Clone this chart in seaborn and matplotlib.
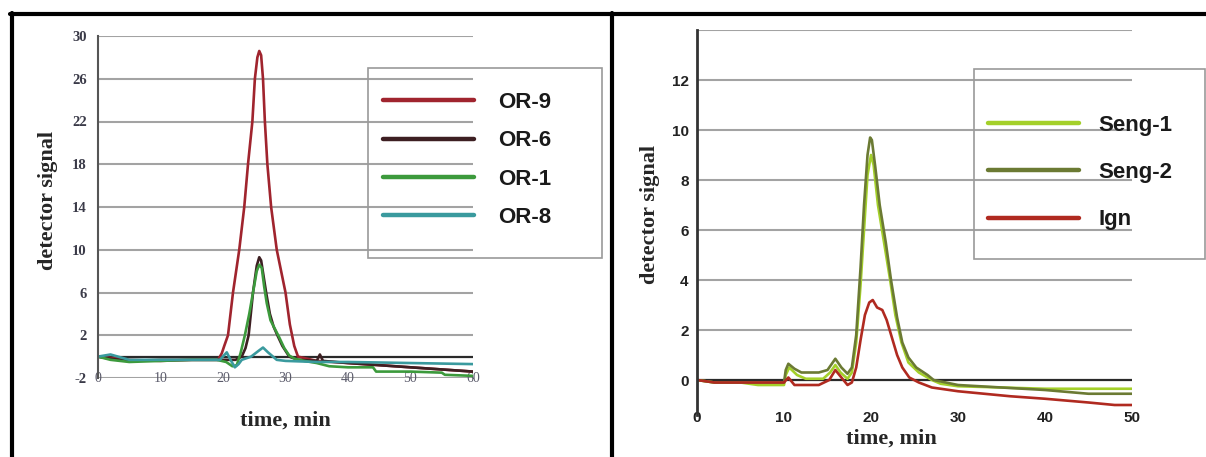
import numpy as np
import pandas as pd
import matplotlib
matplotlib.use("Agg")
import matplotlib.pyplot as plt
from matplotlib.lines import Line2D
from matplotlib.patches import Rectangle
import seaborn as sns

# ---------------- data ----------------
# left panel: OR samples, time (min) vs detector signal
or9_t = [0, 5, 10, 15, 19.2, 19.8, 20.2, 20.8, 21.6, 22.6, 23.4, 24.0, 24.7, 25.1, 25.5,
         25.8, 26.1, 26.4, 26.7, 27.1, 27.7, 28.6, 29.3, 30.0, 30.7, 31.4, 32.0, 35, 40, 45, 50, 55, 60]
or9_y = [0, -0.3, -0.4, -0.3, -0.3, 0.3, 1.0, 2.0, 6.0, 10.0, 14.0, 18.0, 22.0, 26.0, 28.0,
         28.6, 28.2, 26.0, 22.0, 18.0, 14.0, 10.0, 8.0, 6.0, 3.0, 1.0, 0.0, -0.4, -0.6, -0.8, -1.0, -1.2, -1.4]

or6_t = [0, 2, 5, 10, 15, 20, 22, 23, 23.6, 24.1, 24.8, 25.4, 25.8, 26.1, 26.5, 26.9,
         27.5, 28.1, 28.7, 29.5, 30.6, 32, 35, 35.5, 36, 40, 45, 50, 55, 60]
or6_y = [0, -0.2, -0.4, -0.3, -0.3, -0.3, -0.3, 0.0, 0.8, 2.0, 6.0, 8.5, 9.3, 9.0, 7.5, 6.0,
         4.0, 2.8, 2.0, 1.0, 0.0, -0.3, -0.4, 0.2, -0.4, -0.6, -0.8, -1.0, -1.2, -1.4]

or1_t = [0, 2, 5, 10, 15, 19, 20.5, 21.5, 22.2, 22.8, 23.5, 24.2, 24.8, 25.4, 25.8, 26.2,
         26.6, 27.0, 27.6, 28.3, 29.0, 29.8, 30.6, 31.5, 33, 35, 37, 40, 44, 44.5, 50, 55, 55.5, 60]
or1_y = [0, -0.3, -0.5, -0.4, -0.3, -0.3, -0.5, -0.9, -0.8, 0.3, 2.0, 4.0, 6.0, 8.0, 8.6, 8.3,
         6.5, 5.0, 3.4, 2.6, 1.8, 0.8, 0.1, -0.2, -0.4, -0.6, -0.9, -1.0, -1.0, -1.4, -1.4, -1.5, -1.7, -1.8]

or8_t = [0, 2, 5, 10, 15, 19.5, 20.6, 21.2, 21.9, 22.5, 23.0, 24.5, 25.6, 26.4, 27.2, 28.6,
         30, 35, 40, 50, 60]
or8_y = [0, 0.2, -0.3, -0.3, -0.3, -0.3, 0.4, -0.3, -1.0, -0.7, -0.3, 0.0, 0.5, 0.85, 0.4, -0.3,
         -0.4, -0.5, -0.5, -0.6, -0.7]

# right panel: Seng / Ign samples
seng1_t = [0, 2, 5, 7, 10, 10.2, 10.6, 11.5, 12.5, 14.5, 15.3, 15.9, 16.5, 17.3, 17.8, 18.3,
           18.8, 19.2, 19.6, 20.0, 20.3, 20.8, 21.5, 22.2, 22.8, 23.5, 24.3, 25.5, 27, 28, 30,
           35, 40, 45, 50]
seng1_y = [0, -0.1, -0.1, -0.2, -0.2, 0.2, 0.5, 0.2, 0.05, 0.05, 0.3, 0.6, 0.3, 0.05, 0.3, 1.5,
           3.8, 6.0, 8.2, 9.0, 8.6, 7.0, 5.5, 4.0, 2.6, 1.5, 0.7, 0.3, 0.0, -0.15, -0.25,
           -0.3, -0.35, -0.35, -0.35]

seng2_t = [0, 2, 5, 10, 10.2, 10.5, 11.2, 12, 14, 15, 15.9, 16.6, 17.3, 17.8, 18.3, 18.8,
           19.2, 19.6, 19.9, 20.1, 20.5, 21.0, 21.7, 22.3, 23.0, 23.6, 24.3, 25.2, 26.5, 27.2,
           30, 35, 40, 45, 50]
seng2_y = [0, -0.1, -0.1, -0.1, 0.4, 0.65, 0.45, 0.3, 0.3, 0.4, 0.85, 0.5, 0.25, 0.5, 1.8, 4.5,
           7.0, 9.0, 9.7, 9.6, 8.5, 7.0, 5.5, 4.0, 2.5, 1.5, 0.9, 0.5, 0.2, 0.0,
           -0.2, -0.3, -0.4, -0.55, -0.55]

ign_t = [0, 2, 5, 10, 10.5, 11.2, 14, 15.2, 15.9, 16.6, 17.3, 17.8, 18.3, 18.8, 19.3, 19.8,
         20.2, 20.7, 21.3, 21.8, 22.4, 23.0, 23.6, 24.4, 25.5, 27, 28, 30, 33, 36, 40, 45, 48, 50]
ign_y = [0, -0.1, -0.1, -0.1, 0.1, -0.2, -0.2, 0.0, 0.4, 0.1, -0.2, -0.1, 0.5, 1.6, 2.6, 3.1,
         3.2, 2.9, 2.8, 2.4, 1.7, 1.0, 0.5, 0.1, -0.1, -0.3, -0.35, -0.45, -0.55, -0.65, -0.75, -0.9, -1.0, -1.0]

left_names = ["OR-9", "OR-6", "OR-1", "OR-8"]
left_colors = ["#a0242e", "#3d1f22", "#3c9a3c", "#3a9a9e"]
right_names = ["Seng-1", "Seng-2", "Ign"]
right_colors = ["#a4d02a", "#6b7a33", "#b02a20"]

left_yticks = [-2, 2, 6, 10, 14, 18, 22, 26, 30]
left_xticks = [0, 10, 20, 30, 40, 50, 60]
right_yticks = [0, 2, 4, 6, 8, 10, 12, 14]
right_ylabels = ["0", "2", "4", "6", "8", "10", "12", ""]
right_xticks = [0, 10, 20, 30, 40, 50]


def long_frame(names, ts, ys):
    parts = [pd.DataFrame({"time": t, "signal": y, "sample": n}) for n, t, y in zip(names, ts, ys)]
    return pd.concat(parts, ignore_index=True)


left_df = long_frame(left_names, [or9_t, or6_t, or1_t, or8_t], [or9_y, or6_y, or1_y, or8_y])
right_df = long_frame(right_names, [seng1_t, seng2_t, ign_t], [seng1_y, seng2_y, ign_y])

# ---------------- figure ----------------
sns.set_style("white")
plt.rcParams["font.family"] = ["Liberation Sans", "DejaVu Sans"]

W, H = 1206, 457
fig = plt.figure(figsize=(W / 100, H / 100), dpi=100)


def fx(px):
    return px / W


def fy(py):
    return 1 - py / H


ax1 = fig.add_axes([fx(98), fy(378), fx(473) - fx(98), fy(36) - fy(378)])
ax2 = fig.add_axes([fx(697), fy(415), fx(1132) - fx(697), fy(30) - fy(415)])

grid_col = "#a3a3a3"
serif = ["Liberation Serif", "DejaVu Serif"]

# left panel
for v in left_yticks:
    ax1.axhline(v, color=grid_col, lw=1.5, zorder=0)
ax1.axhline(0, color="#2a2a2a", lw=1.6, zorder=0.5)
sns.lineplot(data=left_df, x="time", y="signal", hue="sample", hue_order=left_names,
             palette=left_colors, estimator=None, sort=False, lw=1.9, ax=ax1)
ax1.set_xlim(0, 60)
ax1.set_ylim(-2, 30)
ax1.set_yticks(left_yticks)
ax1.set_xticks(left_xticks)
ax1.set_yticklabels([str(v) for v in left_yticks], family=serif, fontsize=10.5,
                    fontweight="bold", color="#3a3a48")
ax1.set_xticklabels([str(v) for v in left_xticks], family=serif, fontsize=10,
                    color="#5a5a6a")
ax1.tick_params(axis="y", length=0, pad=8)
ax1.tick_params(axis="x", length=0, pad=-4.5)
for s in ["top", "right", "bottom"]:
    ax1.spines[s].set_visible(False)
ax1.spines["left"].set_color("#555555")
ax1.spines["left"].set_linewidth(1.5)
ax1.set_xlabel("time, min", family=serif, fontweight="bold", fontsize=16)
ax1.set_ylabel("detector signal", family=serif, fontweight="bold", fontsize=16)
ax1.xaxis.set_label_coords(0.501, -0.095)
ax1.yaxis.set_label_coords(-0.108, 0.52)

# right panel
for v in right_yticks[1:]:
    ax2.axhline(v, color=grid_col, lw=1.5, zorder=0)
ax2.axhline(0, color="#2a2a2a", lw=1.6, zorder=0.5)
sns.lineplot(data=right_df, x="time", y="signal", hue="sample", hue_order=right_names,
             palette=right_colors, estimator=None, sort=False, lw=1.9, ax=ax2)
ax2.set_xlim(0, 50)
ax2.set_ylim(-1.4, 14)
ax2.set_yticks(right_yticks)
ax2.set_yticklabels(right_ylabels, fontsize=11, fontweight="bold", color="#222222")
ax2.set_xticks(right_xticks)
ax2.set_xticklabels([str(v) for v in right_xticks], fontsize=11, fontweight="bold", color="#222222")
ax2.tick_params(axis="y", length=0, pad=6)
ax2.tick_params(axis="x", length=0, pad=-3)
for s in ["top", "right", "bottom"]:
    ax2.spines[s].set_visible(False)
ax2.spines["left"].set_color("#333333")
ax2.spines["left"].set_linewidth(2)
ax2.set_xlabel("time, min", family=serif, fontweight="bold", fontsize=16)
ax2.set_ylabel("detector signal", family=serif, fontweight="bold", fontsize=16)
ax2.xaxis.set_label_coords(0.446, -0.035)
ax2.yaxis.set_label_coords(-0.085, 0.52)

# legends with hand-placed frames
for ax, frame, anchor, spacing, textpad in [
    (ax1, (368, 68, 602, 258), (383, 92), 0.78, 1.1),
    (ax2, (974, 69, 1205, 259), (988, 115), 1.18, 0.85),
]:
    handles, labels = ax.get_legend_handles_labels()
    leg = ax.legend(handles, labels, loc="upper left", bbox_to_anchor=(fx(anchor[0]), fy(anchor[1])),
                    bbox_transform=fig.transFigure, frameon=False, borderaxespad=0, borderpad=0,
                    handlelength=4.1, handletextpad=textpad, labelspacing=spacing,
                    prop={"family": ["Liberation Sans"], "size": 16, "weight": "bold"})
    for ln in leg.get_lines():
        ln.set_linewidth(3.2)
    for t in leg.get_texts():
        t.set_color("#1a1a1a")
    x0, y0, x1, y1 = frame
    fig.add_artist(Rectangle((fx(x0), fy(y1)), fx(x1) - fx(x0), fy(y0) - fy(y1),
                             transform=fig.transFigure, fill=False, edgecolor="#9a9a9a", lw=1.2))

# panel borders
bw = 3.0
fig.add_artist(Line2D([fx(10), 1], [fy(13.5), fy(13.5)], transform=fig.transFigure, color="black", lw=bw))
fig.add_artist(Line2D([fx(12), fx(12)], [0, fy(13)], transform=fig.transFigure, color="black", lw=bw))
fig.add_artist(Line2D([fx(612), fx(612)], [0, fy(13)], transform=fig.transFigure, color="black", lw=bw))

fig.savefig("out.png", dpi=100, facecolor="white")
